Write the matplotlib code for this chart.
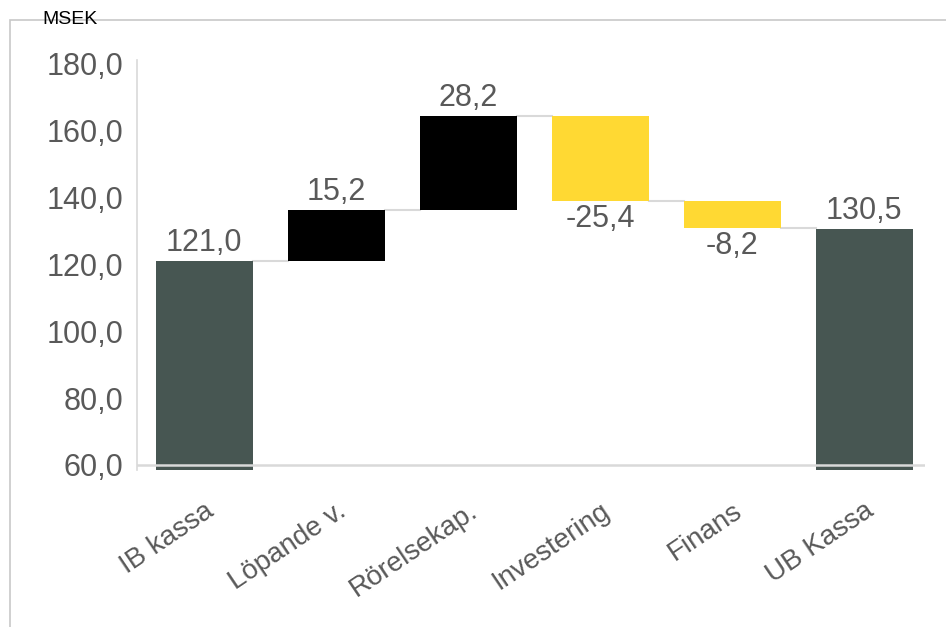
import matplotlib.pyplot as plt
from matplotlib.patches import Rectangle

plt.rcParams['font.family'] = ['Liberation Sans', 'DejaVu Sans']

categories = ["IB kassa", "Löpande v.", "Rörelsekap.", "Investering", "Finans", "UB Kassa"]
start_value = 121.0
changes = [15.2, 28.2, -25.4, -8.2]
end_value = 130.5
label_texts = ["121,0", "15,2", "28,2", "-25,4", "-8,2", "130,5"]

total_color = "#475652"
up_color = "#000000"
down_color = "#FFD933"
text_color = "#595959"
line_color = "#D9D9D9"

# build waterfall bottoms / heights
bottoms = [0]
heights = [start_value]
colors = [total_color]
level = start_value
for c in changes:
    if c >= 0:
        bottoms.append(level)
        heights.append(c)
        colors.append(up_color)
    else:
        bottoms.append(level + c)
        heights.append(-c)
        colors.append(down_color)
    level += c
bottoms.append(0)
heights.append(end_value)
colors.append(total_color)

fig = plt.figure(figsize=(9.46, 6.27), dpi=100)
ax = fig.add_axes([0.1448, 0.2504, 0.833, 0.654])

x = list(range(len(categories)))
width = 0.735
ax.bar(x, heights, bottom=bottoms, width=width, color=colors, zorder=2)

# connector lines
levels = [start_value]
lv = start_value
for c in changes:
    lv += c
    levels.append(lv)
for i in range(len(categories) - 1):
    ax.plot([i + width / 2, i + 1 - width / 2], [levels[i], levels[i]],
            color=line_color, lw=1.5, zorder=1)

# value labels
for i, txt in enumerate(label_texts):
    top = bottoms[i] + heights[i]
    if i in (0, len(categories) - 1) or changes[i - 1] >= 0:
        ax.text(i, top + 0.8, txt, ha='center', va='bottom', fontsize=22, color=text_color)
    else:
        ax.text(i, bottoms[i] - 1.0, txt, ha='center', va='top', fontsize=22, color=text_color)

ax.axhline(60, color=line_color, lw=1.8, zorder=3)

ax.set_ylim(58.5, 181)
ax.set_xlim(-0.51, 5.46)
yt = list(range(60, 181, 20))
ax.set_yticks(yt)
ax.set_yticklabels([f"{v},0" for v in yt], fontsize=22, color=text_color)
ax.set_xticks(x)
ax.set_xticklabels(categories, rotation=34, ha='right', rotation_mode='anchor',
                   fontsize=20, color=text_color)
ax.tick_params(axis='both', length=0)
ax.tick_params(axis='y', pad=10)
ax.tick_params(axis='x', pad=20)

for s in ['top', 'right', 'bottom']:
    ax.spines[s].set_visible(False)
ax.spines['left'].set_color(line_color)
ax.spines['left'].set_linewidth(1.2)

# outer frame
frame = Rectangle((10 / 946, -0.1), 1.0, 1.1 - 20 / 627, transform=fig.transFigure,
                  fill=False, edgecolor="#C8C8C8", lw=1.2)
fig.patches.append(frame)
fig.text(42 / 946, 1 - 20 / 627, "MSEK", fontsize=14, color="black", va='center', ha='left')

fig.savefig("out.png", dpi=100)
